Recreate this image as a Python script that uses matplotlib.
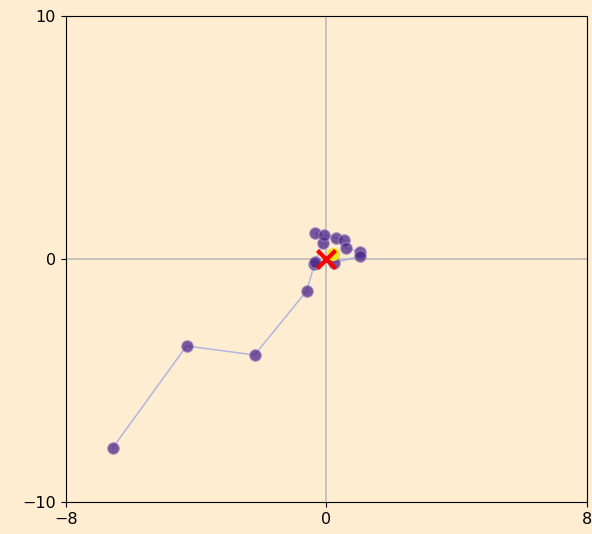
import matplotlib
matplotlib.use("Agg")
import matplotlib.pyplot as plt

# optimisation path (x, y)
path_x = [-6.56, -4.29, -2.20, -0.60, -0.36, -0.11, -0.33, -0.08, 0.29, 0.54, 0.60, 1.05, 1.05, 0.23, -0.33]
path_y = [-7.78, -3.58, -3.95, -1.32, -0.20, 0.66, 1.07, 0.99, 0.86, 0.78, 0.45, 0.29, 0.12, -0.16, -0.12]
final_x, final_y = 0.20, 0.22
target_x, target_y = 0.0, 0.0

bg = "#feedd0"
fig = plt.figure(figsize=(5.92, 5.34), dpi=100, facecolor=bg)
ax = fig.add_axes([0.111, 0.06, 0.88, 0.91], facecolor=bg)

ax.axhline(0, color="#b8b8b8", lw=1.4, alpha=0.8, zorder=0)
ax.axvline(0, color="#b8b8b8", lw=1.4, alpha=0.8, zorder=0)
ax.plot(path_x, path_y, color="#a4ace4", lw=1.1, alpha=0.85, zorder=1)
ax.scatter(path_x, path_y, s=70, color="#4b2487", alpha=0.75,
           edgecolors="#a090c8", linewidths=0.8, zorder=2)
ax.scatter([final_x], [final_y], s=70, color="#f2e020", zorder=3)
ax.scatter([target_x], [target_y], s=170, marker="x", color="red", linewidths=3, zorder=4)

ax.set_xlim(-8, 8)
ax.set_ylim(-10, 10)
ax.set_xticks([-8, 0, 8])
ax.set_yticks([-10, 0, 10])
ax.tick_params(labelsize=11.5)

fig.savefig("out.png", facecolor=bg)
